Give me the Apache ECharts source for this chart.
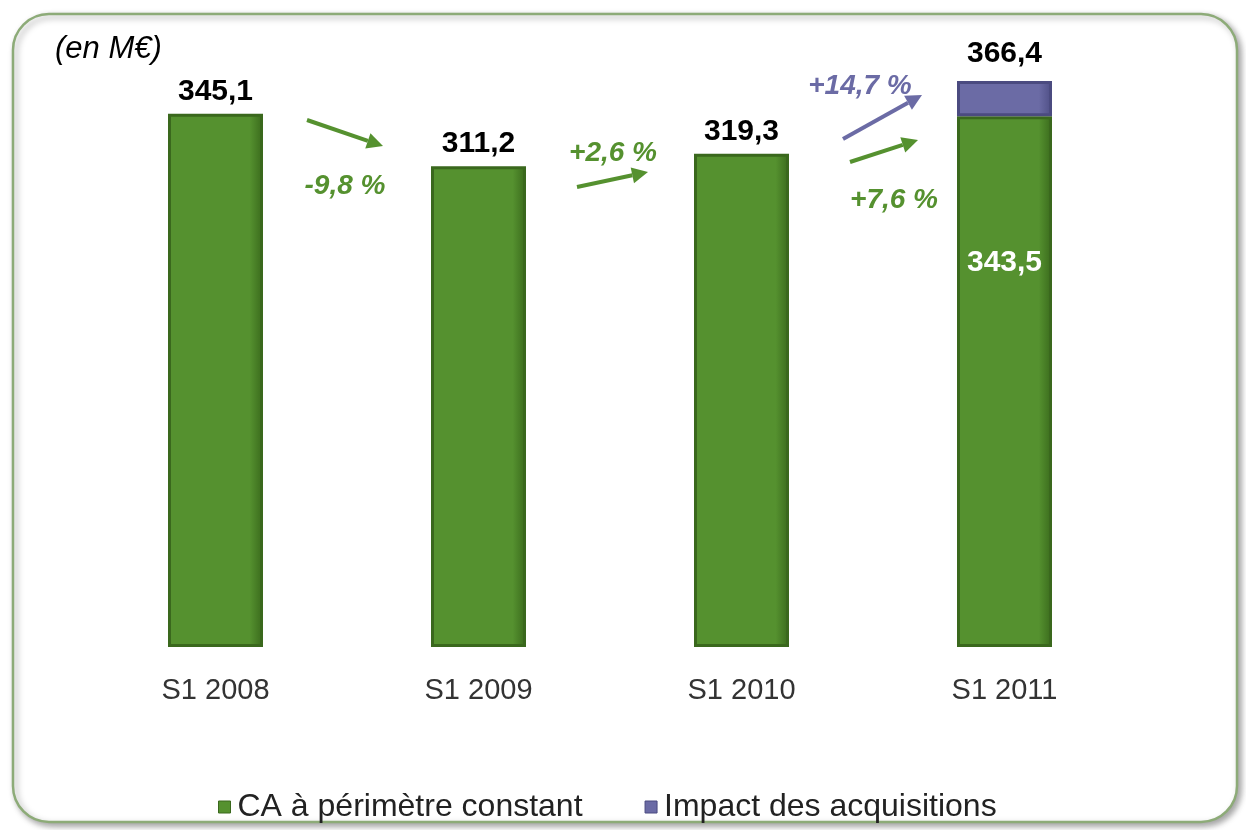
<!DOCTYPE html>
<html>
<head>
<meta charset="utf-8">
<script src="https://cdn.jsdelivr.net/npm/echarts@6/dist/echarts.min.js"></script>
<style>
  html, body { margin: 0; padding: 0; background: #fff; }
  #chart { width: 1246px; height: 830px; }
</style>
</head>
<body>
<div id="chart"></div>
<script>
// data
const categories = ['S1 2008', 'S1 2009', 'S1 2010', 'S1 2011']
const constantScope = [345.1, 311.2, 319.3, 343.5]
const acquisitions = [null, null, null, 22.9]
const totals = [345.1, 311.2, 319.3, 366.4]

const green = '#55912f'
const greenDark = '#3a681d'
const purple = '#6b6ba5'
const purpleDark = '#4b4b80'
const arial = '"Liberation Sans", Arial, sans-serif'

const fmt = v => v.toFixed(1).replace('.', ',')

// bevel-ish fill: darker towards the right edge
const bevel = (mid, edge) => new echarts.graphic.LinearGradient(0, 0, 1, 0, [
  { offset: 0, color: mid },
  { offset: 0.86, color: mid },
  { offset: 1, color: edge }
])

// arrow annotation helper (pixel space)
const arrow = (x1, y1, x2, y2, color) => {
  const ang = Math.atan2(y2 - y1, x2 - x1)
  const len = 16, half = 8
  const bx = x2 - len * Math.cos(ang), by = y2 - len * Math.sin(ang)
  const px = -Math.sin(ang) * half, py = Math.cos(ang) * half
  return [
    { type: 'line', shape: { x1, y1, x2: bx, y2: by }, style: { stroke: color, lineWidth: 4 } },
    { type: 'polygon', shape: { points: [[x2, y2], [bx + px, by + py], [bx - px, by - py]] }, style: { fill: color } }
  ]
}
const note = (x, y, text, color) => ({
  type: 'text', x, y,
  style: { text, fill: color, font: 'italic bold 28px ' + arial, textAlign: 'center', textVerticalAlign: 'middle' }
})

const chart = echarts.init(document.getElementById('chart'))

chart.setOption({
  animation: false,
  backgroundColor: '#fff',
  grid: { left: 84, right: 110, top: 29, bottom: 183 },
  xAxis: {
    type: 'category',
    data: categories,
    axisLine: { show: false },
    axisTick: { show: false },
    axisLabel: { color: '#333', fontSize: 29, fontFamily: arial, margin: 29 }
  },
  yAxis: { type: 'value', min: 0, max: 400, show: false, splitLine: { show: false } },
  legend: {
    top: 786,
    left: 213,
    itemWidth: 12,
    itemHeight: 12,
    itemGap: 62,
    icon: 'rect',
    textStyle: { fontSize: 32, color: '#222', fontFamily: arial, padding: [0, 0, 0, 2] },
    data: [
      { name: 'CA à périmètre constant', itemStyle: { color: green, borderColor: greenDark, borderWidth: 1 } },
      { name: 'Impact des acquisitions', itemStyle: { color: purple, borderColor: purpleDark, borderWidth: 1 } }
    ]
  },
  series: [
    {
      name: 'CA à périmètre constant',
      type: 'bar',
      stack: 'ca',
      barWidth: 95,
      itemStyle: { color: bevel(green, '#3a6a1c'), borderColor: greenDark, borderWidth: 3 },
      data: constantScope.map((v, i) => ({
        value: v,
        label: i === 3
          ? { show: true, position: 'insideTop', distance: 131, color: '#fff', formatter: p => fmt(p.value) }
          : { show: true, position: 'top', distance: 7, color: '#000', formatter: p => fmt(p.value) }
      })),
      label: { fontSize: 30, fontWeight: 'bold', fontFamily: arial }
    },
    {
      name: 'Impact des acquisitions',
      type: 'bar',
      stack: 'ca',
      barWidth: 95,
      itemStyle: { color: bevel(purple, '#4e4e85'), borderColor: purpleDark, borderWidth: 3 },
      label: {
        show: true, position: 'top', distance: 12, color: '#000',
        fontSize: 30, fontWeight: 'bold', fontFamily: arial,
        formatter: p => fmt(totals[p.dataIndex])
      },
      data: acquisitions
    }
  ],
  graphic: [
    {
      type: 'rect', silent: true, z: -10,
      shape: { x: 13, y: 14, width: 1224, height: 808, r: 36 },
      style: { fill: '#fff', stroke: '#8dab78', lineWidth: 2.5, shadowBlur: 6, shadowOffsetX: 3, shadowOffsetY: 3, shadowColor: 'rgba(0,0,0,0.35)' }
    },
    {
      type: 'text', left: 55, top: 34,
      style: { text: '(en M€)', fill: '#000', font: 'italic 31px ' + arial }
    },
    ...arrow(307, 120, 383, 146, green),
    note(345, 186, '-9,8 %', green),
    ...arrow(577, 187, 648, 172, green),
    note(613, 153, '+2,6 %', green),
    ...arrow(843, 139, 922, 95, purple),
    note(860, 86, '+14,7 %', purple),
    ...arrow(850, 162, 918, 140, green),
    note(894, 200, '+7,6 %', green)
  ]
})
</script>
</body>
</html>
